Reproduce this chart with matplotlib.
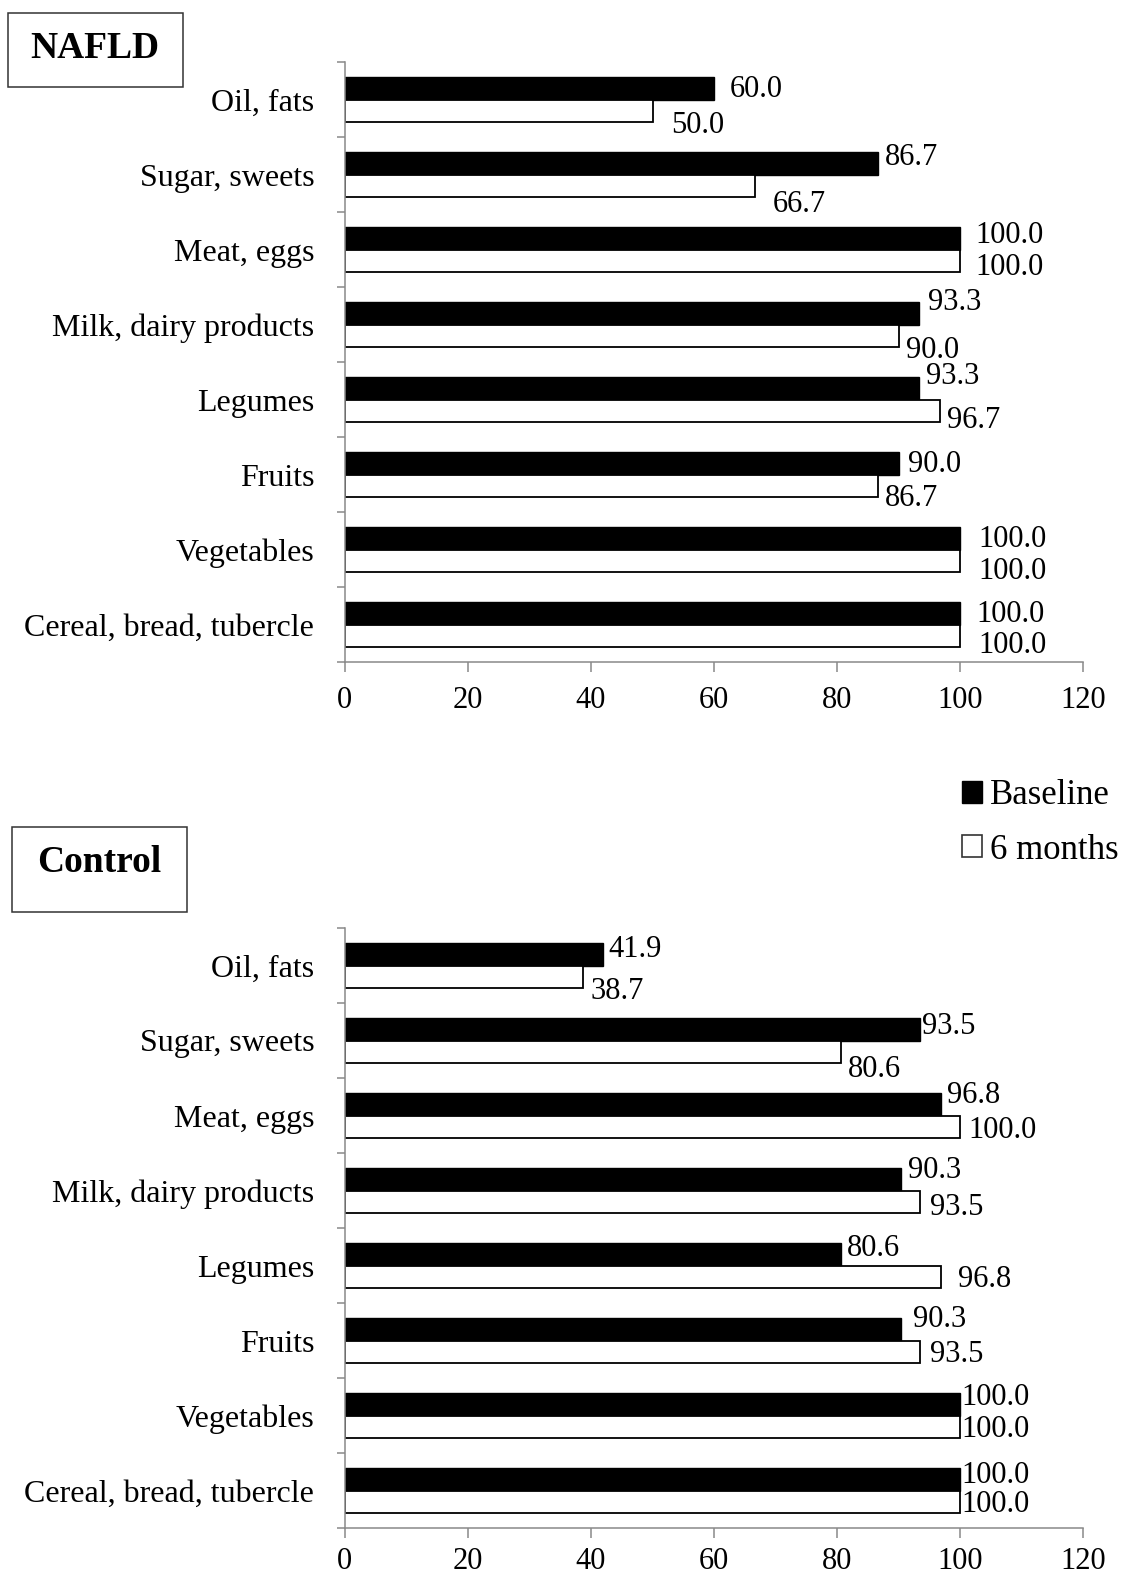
import matplotlib
matplotlib.use("Agg")
import matplotlib.pyplot as plt
from matplotlib.patches import Rectangle, Patch
import numpy as np

plt.rcParams['font.family'] = ['Liberation Serif', 'DejaVu Serif']

# ---------------- data ----------------
categories = ["Oil, fats", "Sugar, sweets", "Meat, eggs", "Milk, dairy products",
              "Legumes", "Fruits", "Vegetables", "Cereal, bread, tubercle"]

nafld_baseline = [60.0, 86.7, 100.0, 93.3, 93.3, 90.0, 100.0, 100.0]
nafld_6months = [50.0, 66.7, 100.0, 90.0, 96.7, 86.7, 100.0, 100.0]

control_baseline = [41.9, 93.5, 96.8, 90.3, 80.6, 90.3, 100.0, 100.0]
control_6months = [38.7, 80.6, 100.0, 93.5, 96.8, 93.5, 100.0, 100.0]

x_ticks = [0, 20, 40, 60, 80, 100, 120]
series_names = ["Baseline", "6 months"]

# label nudges (pixels right, pixels down of bar end / bar centre) - hand placed like the original
nafld_nudge_base = [(16, 9), (7, 2), (15, 5), (9, -3), (7, -4), (9, 9), (18, 9), (16, 9)]
nafld_nudge_6m = [(19, 22), (17, 26), (15, 14), (7, 22), (7, 17), (7, 20), (18, 18), (18, 17)]
control_nudge_base = [(6, 3), (2, 5), (6, -1), (7, -1), (6, 2), (12, -2), (1, 1), (1, 4)]
control_nudge_6m = [(8, 22), (7, 25), (8, 11), (10, 13), (17, 10), (10, 10), (1, 10), (1, 10)]

W, H = 1121, 1578
FS = 22      # value + x tick labels
FS_CAT = 23  # category names
GREY = '#898989'

fig = plt.figure(figsize=(W / 100, H / 100), dpi=100)


def px_axes(left, top, right, bottom):
    return fig.add_axes([left / W, 1 - bottom / H, (right - left) / W, (bottom - top) / H])


def draw_panel(ax, base, six, nudge_b, nudge_6, xpad=10):
    y = np.arange(len(categories))
    h = 0.3
    ax.barh(y - h / 2, base, height=h, color='black', edgecolor='black', linewidth=1.0)
    ax.barh(y + h / 2, six, height=h, color='white', edgecolor='black', linewidth=1.3)
    for i in range(len(categories)):
        dx, dy = nudge_b[i]
        ax.annotate(f"{base[i]:.1f}", xy=(base[i], y[i] - h / 2), xytext=(dx, -dy),
                    textcoords='offset pixels', ha='left', va='baseline', fontsize=FS)
        dx, dy = nudge_6[i]
        ax.annotate(f"{six[i]:.1f}", xy=(six[i], y[i] + h / 2), xytext=(dx, -dy),
                    textcoords='offset pixels', ha='left', va='baseline', fontsize=FS)
    ax.set_xlim(0, 120)
    ax.set_ylim(len(categories) - 0.5, -0.5)
    ax.set_xticks(x_ticks)
    ax.set_xticklabels([str(t) for t in x_ticks], fontsize=FS)
    # category boundaries get the tick marks, names sit in between
    ax.set_yticks(np.arange(len(categories) + 1) - 0.5)
    ax.set_yticklabels([])
    ax.set_yticks(y, minor=True)
    ax.set_yticklabels(categories, minor=True, fontsize=FS_CAT)
    ax.tick_params(axis='y', which='major', length=6, width=1.1, color=GREY, direction='out')
    ax.tick_params(axis='y', which='minor', length=0, pad=22)
    ax.tick_params(axis='x', length=7.5, width=1.1, color=GREY, pad=xpad)
    for s in ['top', 'right']:
        ax.spines[s].set_visible(False)
    for s in ['left', 'bottom']:
        ax.spines[s].set_color(GREY)
        ax.spines[s].set_linewidth(1.1)


ax1 = px_axes(344.8, 62, 1083.3, 662)
draw_panel(ax1, nafld_baseline, nafld_6months, nafld_nudge_base, nafld_nudge_6m)

ax2 = px_axes(344.8, 928, 1083.3, 1528)
# a bit less pad so the bottom labels stay inside the canvas
draw_panel(ax2, control_baseline, control_6months, control_nudge_base, control_nudge_6m, xpad=6.5)


def title_box(text, left, top, right, bottom, tx, ty):
    fig.patches.append(Rectangle((left / W, 1 - bottom / H), (right - left) / W, (bottom - top) / H,
                                 transform=fig.transFigure, facecolor='white',
                                 edgecolor='#333333', linewidth=1.1))
    fig.text(tx / W, 1 - ty / H, text, ha='center', va='center', fontsize=27, fontweight='bold')


title_box("NAFLD", 8, 13, 183, 87, 95, 49)
title_box("Control", 12, 827, 187, 912, 99, 863)

handles = [Patch(facecolor='black', edgecolor='black'),
           Patch(facecolor='white', edgecolor='#333333', linewidth=1.2)]
fig.legend(handles, series_names, loc='upper left', bbox_to_anchor=(962 / W, 1 - 779 / H),
           frameon=False, fontsize=25, handlelength=0.58, handleheight=0.58,
           handletextpad=0.22, labelspacing=0.62, borderpad=0, borderaxespad=0)

fig.savefig("out.png", dpi=100)
